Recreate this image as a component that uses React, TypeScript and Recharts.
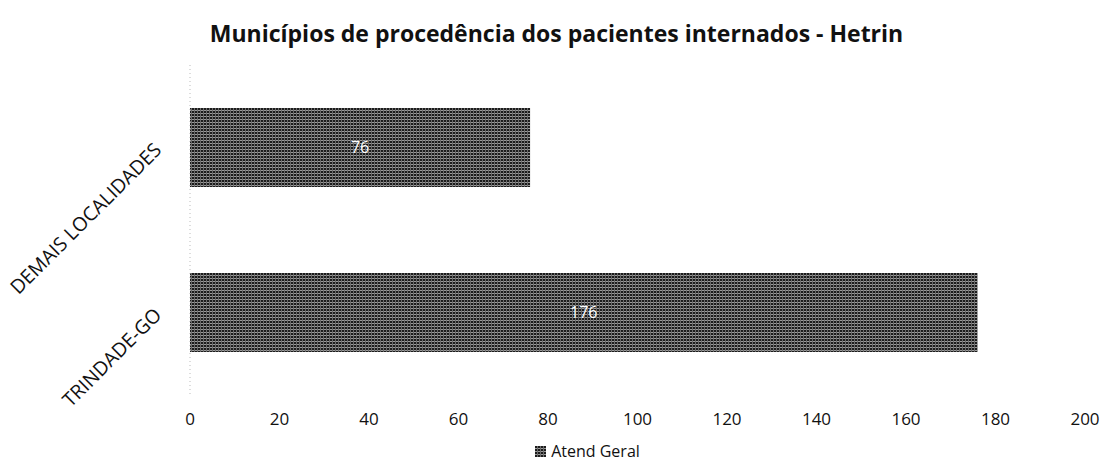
import { BarChart, Bar, XAxis, YAxis, Legend, LabelList } from 'recharts'

const categories = ['DEMAIS LOCALIDADES', 'TRINDADE-GO']
const atendGeral = [76, 176]
const xTicks = [0, 20, 40, 60, 80, 100, 120, 140, 160, 180, 200]

const data = categories.map((name, i) => ({ name, atend: atendGeral[i] }))

const FONT = '"Open Sans", "Liberation Sans", sans-serif'

function CategoryTick({ x, y, payload }: any) {
  return (
    <text
      x={x}
      y={y}
      textAnchor="end"
      dominantBaseline="middle"
      transform={`rotate(-45 ${x} ${y})`}
      fontSize={19.5}
      fontFamily={FONT}
      fill="#111"
    >
      {payload.value}
    </text>
  )
}

function LegendContent() {
  return (
    <div style={{ display: 'flex', justifyContent: 'center', alignItems: 'center', fontFamily: FONT, fontSize: 16, color: '#111', paddingTop: 15, paddingLeft: 90 }}>
      <svg width={11} height={11} style={{ marginRight: 5 }}>
        <rect width={11} height={11} fill="url(#scanfill)" />
      </svg>
      Atend Geral
    </div>
  )
}

export default function App() {
  return (
    <div style={{ position: 'absolute', left: 0, top: 0, width: 1113, height: 465, background: '#fff' }}>
      <div
        style={{
          position: 'absolute', top: 17, left: 0, width: 1113, textAlign: 'center',
          fontFamily: FONT, fontWeight: 700, fontSize: 23, color: '#111',
        }}
      >
        Municípios de procedência dos pacientes internados - Hetrin
      </div>
      <BarChart
        width={1113}
        height={465}
        data={data}
        layout="vertical"
        margin={{ top: 65, right: 28, left: 0, bottom: 10 }}
        barCategoryGap="26%"
      >
        <defs>
          <pattern id="scanfill" width={3} height={3} patternUnits="userSpaceOnUse">
            <rect width={3} height={3} fill="#1c1c1c" />
            <rect x={0} y={2} width={3} height={1} fill="#9a9a9a" />
            <rect x={2} y={0} width={1} height={3} fill="#6a6a6a" />
          </pattern>
        </defs>
        <XAxis
          type="number"
          domain={[0, 200]}
          ticks={xTicks}
          axisLine={false}
          tickLine={false}
          tickMargin={12}
          tick={{ fontSize: 17, fontFamily: FONT, fill: '#111' }}
        />
        <YAxis
          type="category"
          dataKey="name"
          width={190}
          axisLine={{ stroke: '#bbb', strokeDasharray: '1 3' }}
          tickLine={false}
          tick={<CategoryTick />}
          tickMargin={25}
        />
        <Legend verticalAlign="bottom" height={30} content={<LegendContent />} />
        <Bar dataKey="atend" fill="url(#scanfill)" isAnimationActive={false}>
          <LabelList dataKey="atend" position="center" fill="#fff" fontSize={16} fontFamily={FONT} />
        </Bar>
      </BarChart>
    </div>
  )
}
